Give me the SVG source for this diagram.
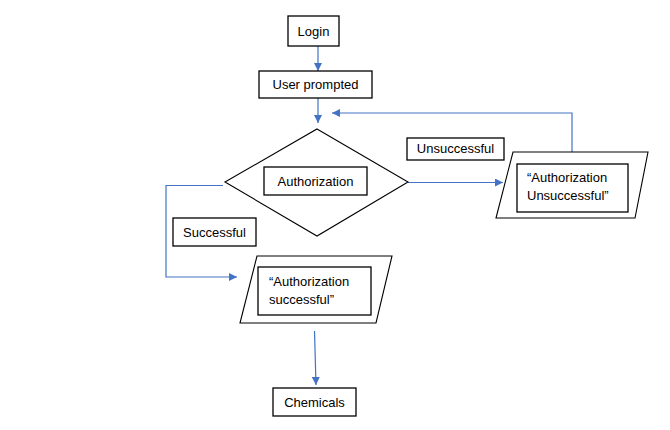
<svg xmlns="http://www.w3.org/2000/svg" width="670" height="430" viewBox="0 0 670 430">
<style>
.box{fill:#fff;stroke:#000;stroke-width:1.3}
.shape{fill:#fff;stroke:#000;stroke-width:1.1}
.t{font-family:"Liberation Sans",Arial,sans-serif;font-size:13px;fill:#000}
.c{text-anchor:middle}
.con{fill:none;stroke:#4472C4;stroke-width:1.2}
</style>
<defs>
<marker id="ah" viewBox="0 0 10 10" refX="10" refY="5" markerWidth="8" markerHeight="8" markerUnits="userSpaceOnUse" orient="auto">
<path d="M0,0 L10,5 L0,10 z" fill="#4472C4"/>
</marker>
</defs>
<rect width="670" height="430" fill="#fff"/>
<g id="connectors">
<line class="con" x1="318" y1="46" x2="318" y2="71" marker-end="url(#ah)"/>
<line class="con" x1="318" y1="98" x2="318" y2="123" marker-end="url(#ah)"/>
<polyline class="con" points="572,152 572,113 332,113" marker-end="url(#ah)"/>
<line class="con" x1="408" y1="182.5" x2="503" y2="182.5" marker-end="url(#ah)"/>
<polyline class="con" points="223,185.5 166,185.5 166,277 237,277" marker-end="url(#ah)"/>
<line class="con" x1="314.5" y1="331" x2="316" y2="385" marker-end="url(#ah)"/>
</g>
<g id="login">
<rect class="box" x="288" y="16" width="51" height="30"/>
<text class="t c" x="313.5" y="36">Login</text>
</g>
<g id="user-prompted">
<rect class="box" x="259" y="71" width="113" height="27"/>
<text class="t c" x="315.5" y="89">User prompted</text>
</g>
<g id="authorization">
<polygon class="shape" points="317,129 408,182 317,236 225,182"/>
<rect class="box" x="264" y="167" width="103" height="28"/>
<text class="t c" x="315.5" y="186">Authorization</text>
</g>
<g id="label-unsuccessful">
<rect class="box" x="407" y="138" width="97" height="22"/>
<text class="t c" x="455.5" y="153">Unsuccessful</text>
</g>
<g id="label-successful">
<rect class="box" x="173" y="218" width="83" height="28"/>
<text class="t c" x="214.5" y="237">Successful</text>
</g>
<g id="auth-unsuccessful">
<polygon class="shape" points="513,152 648,152 635,218 496,218"/>
<rect class="box" x="517" y="164" width="111" height="48"/>
<text class="t" x="527" y="182">“Authorization</text>
<text class="t" x="527" y="200">Unsuccessful”</text>
</g>
<g id="auth-successful">
<polygon class="shape" points="257,256 392,256 376,323 240,323"/>
<rect class="box" x="258" y="267" width="113" height="48"/>
<text class="t" x="269" y="286">“Authorization</text>
<text class="t" x="269" y="304">successful”</text>
</g>
<g id="chemicals">
<rect class="box" x="273" y="388" width="83" height="28"/>
<text class="t c" x="314.5" y="407">Chemicals</text>
</g>
</svg>
